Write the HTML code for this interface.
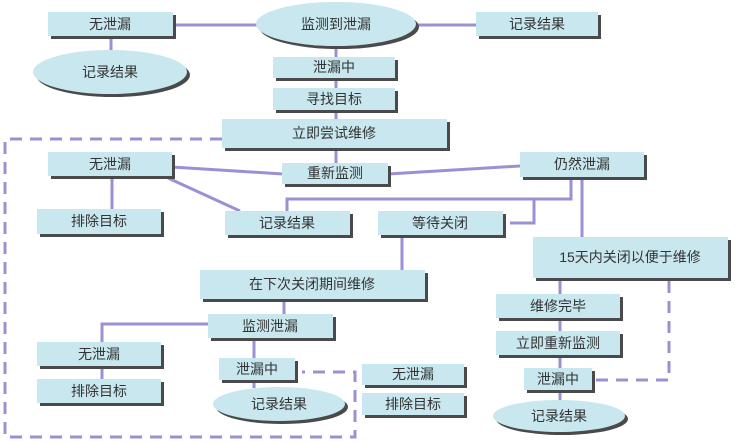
<!DOCTYPE html>
<html><head><meta charset="utf-8"><style>
html,body{margin:0;padding:0;background:#fff;}
svg{display:block;}
text{font-family:"Liberation Sans","Noto Sans CJK SC",sans-serif;font-size:14px;fill:#333;text-anchor:middle;dominant-baseline:central;}
</style></head><body>
<svg width="750" height="442" viewBox="0 0 750 442" xmlns="http://www.w3.org/2000/svg">
<g stroke="#9b90d4" stroke-width="3" fill="none">
<line x1="173" y1="25" x2="258" y2="25"/>
<line x1="416" y1="25" x2="476" y2="25"/>
<line x1="111" y1="36" x2="111" y2="52"/>
<line x1="336" y1="45" x2="336" y2="164"/>
<line x1="172" y1="167" x2="283" y2="174"/>
<line x1="388" y1="174" x2="520" y2="166"/>
<line x1="112" y1="176" x2="112" y2="210"/>
<line x1="168" y1="178" x2="240" y2="211"/>
<polyline points="571,177 571,199 287,199 287,211"/>
<polyline points="534,199 534,223 510,223"/>
<line x1="582" y1="177" x2="582" y2="237"/>
<line x1="402" y1="235" x2="402" y2="270"/>
<line x1="284" y1="299" x2="284" y2="314"/>
<polyline points="208,324 102,324 102,342"/>
<line x1="102" y1="366" x2="102" y2="379"/>
<line x1="254" y1="338" x2="254" y2="388"/>
<line x1="560" y1="278" x2="560" y2="402"/>
</g>
<g stroke="#9b90d4" stroke-width="3" fill="none" stroke-dasharray="12,8">
<polyline points="222,139 5,139 5,437 355,437 355,372 302,372"/>
<polyline points="596,380 669,380 669,281"/>
</g>
<g fill="#4a4a4a">
<rect x="51" y="15" width="125" height="24"/>
<rect x="479" y="15" width="122" height="24"/>
<rect x="276" y="60" width="122" height="21"/>
<rect x="276" y="91" width="122" height="22"/>
<rect x="225" y="122" width="225" height="29"/>
<rect x="51" y="155" width="124" height="24"/>
<rect x="285" y="166" width="106" height="21"/>
<rect x="523" y="155" width="124" height="25"/>
<rect x="40" y="212" width="124" height="25"/>
<rect x="228" y="214" width="125" height="24"/>
<rect x="381" y="214" width="125" height="24"/>
<rect x="536" y="240" width="195" height="41"/>
<rect x="203" y="273" width="225" height="29"/>
<rect x="499" y="297" width="124" height="24"/>
<rect x="499" y="334" width="124" height="24"/>
<rect x="527" y="371" width="68" height="22"/>
<rect x="211" y="317" width="125" height="24"/>
<rect x="40" y="345" width="124" height="24"/>
<rect x="40" y="382" width="124" height="24"/>
<rect x="222" y="361" width="76" height="22"/>
<rect x="365" y="367" width="102" height="21"/>
<rect x="365" y="396" width="102" height="22"/>
<ellipse cx="113" cy="75" rx="77" ry="22"/>
<ellipse cx="339" cy="27" rx="80" ry="22"/>
<ellipse cx="562" cy="419" rx="66" ry="16"/>
<ellipse cx="282" cy="407" rx="66" ry="17"/>
</g>
<g fill="#c8e7ee">
<rect x="48" y="12" width="125" height="24"/>
<rect x="476" y="12" width="122" height="24"/>
<rect x="273" y="57" width="122" height="21"/>
<rect x="273" y="88" width="122" height="22"/>
<rect x="222" y="119" width="225" height="29"/>
<rect x="48" y="152" width="124" height="24"/>
<rect x="282" y="163" width="106" height="21"/>
<rect x="520" y="152" width="124" height="25"/>
<rect x="37" y="209" width="124" height="25"/>
<rect x="225" y="211" width="125" height="24"/>
<rect x="378" y="211" width="125" height="24"/>
<rect x="533" y="237" width="195" height="41"/>
<rect x="200" y="270" width="225" height="29"/>
<rect x="496" y="294" width="124" height="24"/>
<rect x="496" y="331" width="124" height="24"/>
<rect x="524" y="368" width="68" height="22"/>
<rect x="208" y="314" width="125" height="24"/>
<rect x="37" y="342" width="124" height="24"/>
<rect x="37" y="379" width="124" height="24"/>
<rect x="219" y="358" width="76" height="22"/>
<rect x="362" y="364" width="102" height="21"/>
<rect x="362" y="393" width="102" height="22"/>
<ellipse cx="110" cy="72" rx="77" ry="22"/>
<ellipse cx="336" cy="24" rx="80" ry="22"/>
<ellipse cx="559" cy="416" rx="66" ry="16"/>
<ellipse cx="279" cy="404" rx="66" ry="17"/>
</g>
<text x="110" y="24">无泄漏</text>
<text x="110" y="72">记录结果</text>
<text x="336" y="24">监测到泄漏</text>
<text x="537" y="24">记录结果</text>
<text x="334" y="67">泄漏中</text>
<text x="334" y="99">寻找目标</text>
<text x="334" y="133">立即尝试维修</text>
<text x="110" y="164">无泄漏</text>
<text x="335" y="173">重新监测</text>
<text x="582" y="164">仍然泄漏</text>
<text x="99" y="221">排除目标</text>
<text x="287" y="223">记录结果</text>
<text x="440" y="223">等待关闭</text>
<text x="630" y="257">15天内关闭以便于维修</text>
<text x="312" y="284">在下次关闭期间维修</text>
<text x="558" y="306">维修完毕</text>
<text x="558" y="343">立即重新监测</text>
<text x="558" y="379">泄漏中</text>
<text x="559" y="416">记录结果</text>
<text x="270" y="326">监测泄漏</text>
<text x="99" y="354">无泄漏</text>
<text x="99" y="391">排除目标</text>
<text x="257" y="369">泄漏中</text>
<text x="279" y="404">记录结果</text>
<text x="413" y="374">无泄漏</text>
<text x="413" y="404">排除目标</text>
</svg>
</body></html>
